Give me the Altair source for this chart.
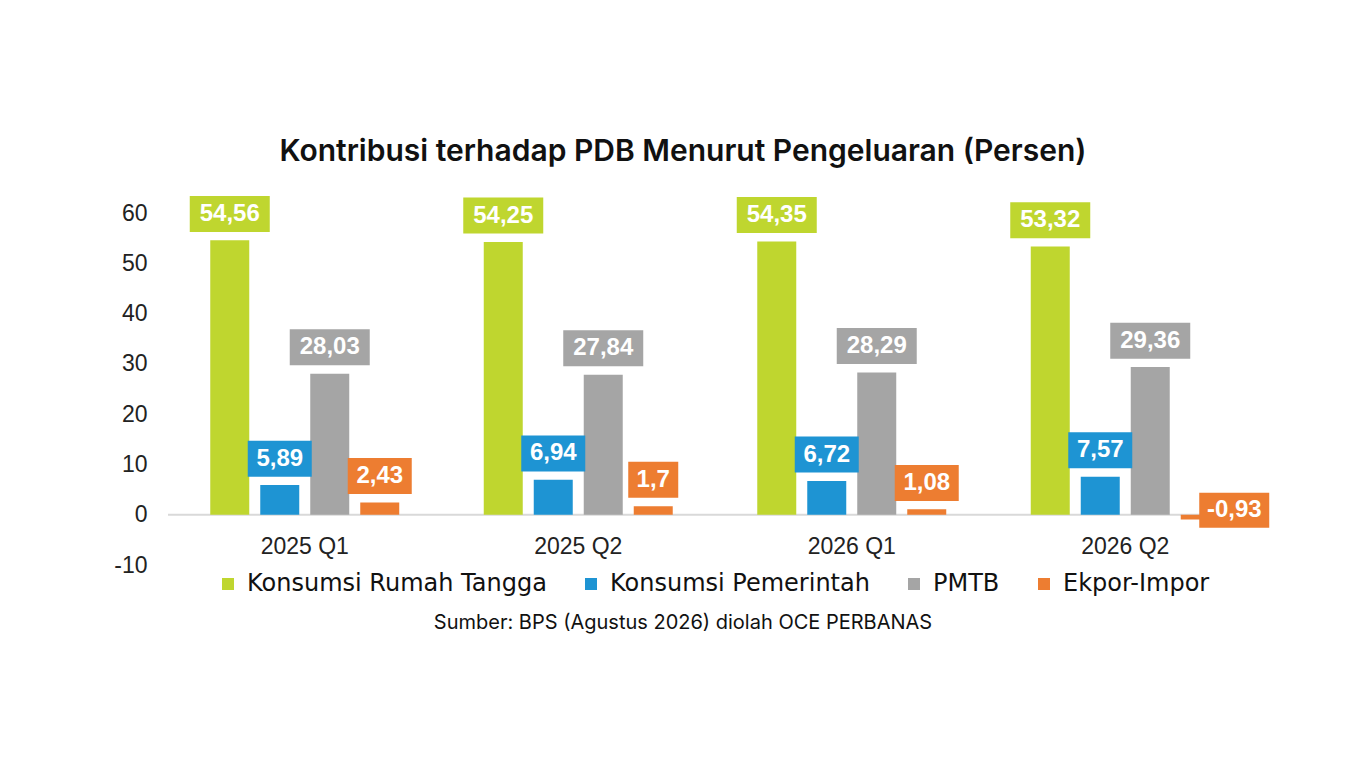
import altair as alt
import pandas as pd

quarters = ["2025 Q1", "2025 Q2", "2026 Q1", "2026 Q2"]
series = ["Konsumsi Rumah Tangga", "Konsumsi Pemerintah", "PMTB", "Ekpor-Impor"]
rumah_tangga = [54.56, 54.25, 54.35, 53.32]
pemerintah = [5.89, 6.94, 6.72, 7.57]
pmtb = [28.03, 27.84, 28.29, 29.36]
ekspor_impor = [2.43, 1.7, 1.08, -0.93]
colors = ["#BFD62F", "#1E94D3", "#A5A5A5", "#ED7D31"]
y_ticks = [-10, 0, 10, 20, 30, 40, 50, 60]
title_text = "Kontribusi terhadap PDB Menurut Pengeluaran (Persen)"
source_text = "Sumber: BPS (Agustus 2026) diolah OCE PERBANAS"

rows = []
for s, vals in zip(series, [rumah_tangga, pemerintah, pmtb, ekspor_impor]):
    for q, v in zip(quarters, vals):
        rows.append({"quarter": q, "series": s, "value": v})
df = pd.DataFrame(rows)

# label box shapes (custom symbol paths, unit = 10px with size 400)
shape_keys = ["3", "4", "5", "5n"]
shape_paths = [
    "M-2.5,-1.8L2.5,-1.8L2.5,1.8L-2.5,1.8Z",
    "M-3.2,-1.8L3.2,-1.8L3.2,1.8L-3.2,1.8Z",
    "M-4,-1.8L4,-1.8L4,1.8L-4,1.8Z",
    "M-0.1,-1.75L6.9,-1.75L6.9,1.75L-0.1,1.75Z",
]

AX_FONT = "Liberation Sans"

x_enc = alt.X(
    "quarter:N", sort=quarters,
    scale=alt.Scale(paddingInner=0.309, paddingOuter=0.1545),
    axis=alt.Axis(title=None, labelAngle=0, domain=False, ticks=False,
                  labelPadding=20, labelFont=AX_FONT, labelFontSize=23,
                  labelColor="#222222", offset=-50),
)
xoff_enc = alt.XOffset("series:N", sort=series,
                       scale=alt.Scale(paddingInner=0.22, paddingOuter=0))
y_axis = alt.Axis(values=y_ticks, title=None, grid=False, domain=False, ticks=False,
                  labelPadding=21, labelFont=AX_FONT, labelFontSize=23,
                  labelColor="#222222", labelExpr="toString(datum.value)")
y_scale = alt.Scale(domain=[-10, 60], nice=False, zero=False)
color_enc = alt.Color(
    "series:N", sort=series,
    scale=alt.Scale(domain=series, range=colors),
    legend=alt.Legend(title=None, orient="none", legendX=48, legendY=359,
                      direction="horizontal", columns=4, symbolType="square",
                      symbolSize=144, symbolStrokeWidth=0, labelFont="DejaVu Sans",
                      labelFontSize=24, labelColor="#111111", labelOffset=7,
                      labelLimit=500, columnPadding=32, padding=0),
)

base = alt.Chart(df).transform_calculate(
    label="replace(toString(datum.value), '.', ',')"
).transform_calculate(
    ly="datum.value >= 0 ? datum.value + 5.25 : 0.9",
    sk="toString(length(datum.label)) + (datum.value < 0 ? 'n' : '')",
)

zero_line = alt.Chart(pd.DataFrame({"z": [0]})).mark_rule(
    color="#d9d9d9", strokeWidth=2
).encode(y=alt.Y("z:Q", scale=y_scale, axis=y_axis))

bars = base.mark_bar().encode(
    x=x_enc, xOffset=xoff_enc,
    y=alt.Y("value:Q", scale=y_scale, axis=y_axis),
    color=color_enc,
)

boxes = base.mark_point(filled=True, opacity=1, size=400, strokeWidth=0).encode(
    x=x_enc, xOffset=xoff_enc,
    y=alt.Y("ly:Q", scale=y_scale, axis=y_axis),
    color=color_enc,
    shape=alt.Shape("sk:N", scale=alt.Scale(domain=shape_keys, range=shape_paths),
                    legend=None),
)

text_style = dict(font=AX_FONT, fontWeight="bold", fontSize=24, color="#ffffff",
                  baseline="middle", align="center")
texts_pos = base.transform_filter("datum.value >= 0").mark_text(**text_style).encode(
    x=x_enc, xOffset=xoff_enc,
    y=alt.Y("ly:Q", scale=y_scale, axis=y_axis),
    text="label:N",
)
texts_neg = base.transform_filter("datum.value < 0").mark_text(dx=34, **text_style).encode(
    x=x_enc, xOffset=xoff_enc,
    y=alt.Y("ly:Q", scale=y_scale, axis=y_axis),
    text="label:N",
)

source = alt.Chart(pd.DataFrame({"t": [source_text]})).mark_text(
    font="Inter", fontSize=20, color="#111111", baseline="middle", align="center"
).encode(x=alt.value(515), y=alt.value(410), text="t:N")

chart = alt.layer(zero_line, bars, boxes, texts_pos, texts_neg, source).properties(
    width=1094, height=352,
    title=alt.TitleParams(title_text, font="Inter", fontSize=30, fontWeight=600,
                          color="#111111", anchor="middle", frame="group", dx=-32,
                          offset=29),
    autosize=alt.AutoSizeParams(type="none"),
    padding={"left": 160, "top": 205, "right": 96, "bottom": 190},
).configure(background="white").configure_view(strokeWidth=0, stroke="transparent")

chart.save("out.html", embed_options={"renderer": "svg", "actions": False})
